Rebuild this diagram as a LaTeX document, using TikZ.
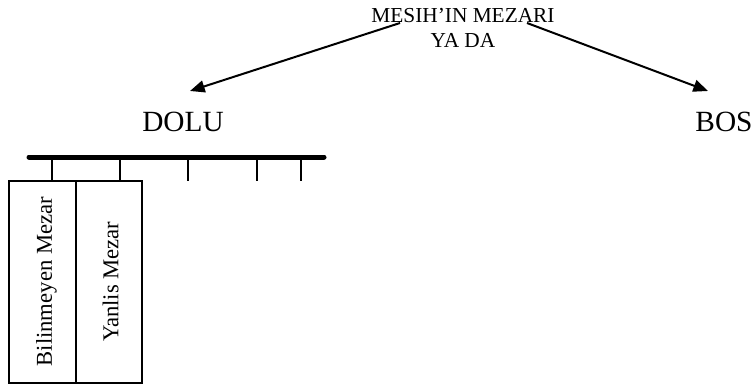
\documentclass[tikz,border=0pt]{standalone}
\usepackage{fontspec}
\setmainfont{Liberation Serif}
\usetikzlibrary{arrows.meta}
\begin{document}
\begin{tikzpicture}[x=0.75pt,y=-0.75pt,
  arr/.style={line width=1.5pt,-{Triangle[length=11pt,width=9pt]}},
  tick/.style={line width=1.4pt},
  grave box/.style={draw,line width=1.4pt,rotate=90,minimum width=151.5pt,inner sep=0pt,text height=14pt,text depth=0pt,font=\fontsize{17}{18}\selectfont}]
\useasboundingbox (0,0) rectangle (755,385);
\node [align=center,font=\fontsize{16}{19}\selectfont] (title) at (463,28) {MESIH’IN MEZARI\\YA DA};
\begin{scope}[every node/.style={font=\fontsize{22}{24}\selectfont,anchor=base}]
\node (dolu) at (183,131.7) {DOLU};
\node (bos) at (724,131.7) {BOS};
\end{scope}
\coordinate (tl) at (400,23);
\coordinate (tr) at (527,23);
\coordinate (dl) at (190,91);
\coordinate (br) at (708,91);
\draw [arr] (tl) -- (dl);
\draw [arr] (tr) -- (br);
% dolu branches
\draw [line width=3.75pt,line cap=round] (29,157) -- (324,157);
\foreach \x in {52,120,188,257,301}
  \draw [tick] (\x,157) -- (\x,181);
\node [grave box,minimum height=50.25pt] (b1) at (42.5,281.7) {Bilinmeyen Mezar};
\node [grave box,minimum height=49.5pt] (b2) at (109,281.7) {Yanlis Mezar};
\end{tikzpicture}
\end{document}
